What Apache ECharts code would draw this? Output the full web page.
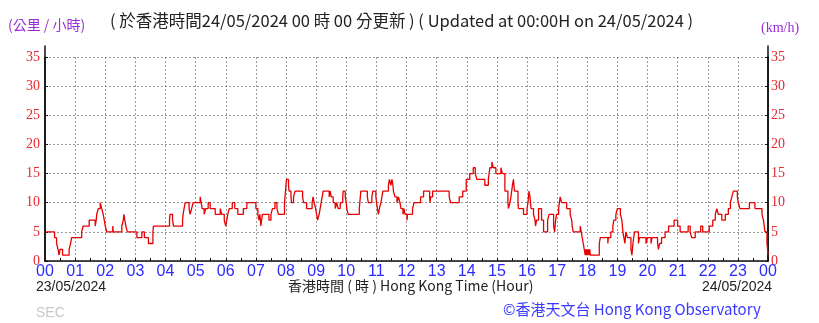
<!DOCTYPE html>
<html>
<head>
<meta charset="utf-8">
<script src="https://cdn.jsdelivr.net/npm/echarts@6/dist/echarts.min.js"></script>
<style>
    html, body { margin: 0; padding: 0; background: #fff; }
    #main { width: 819px; height: 323px; }
</style>
</head>
<body>
<div id="main"></div>
<script>
    // minutes after 00:00 (23/05) where the reading changes, and the wind speed from there (km/h)
    var minutes = [
        0, 19, 23, 26, 28, 30, 35, 48, 51, 53, 73, 76, 88, 100, 102, 103, 106, 110, 113, 116, 118, 120, 123, 135, 136,
        153, 156, 157, 159, 161, 164, 183, 193, 198, 206, 215, 216, 248, 249, 254, 256, 274, 275, 277, 279,
        287, 289, 292, 295, 309, 311, 313, 317, 320, 325, 329, 339, 349, 352, 357, 360, 362, 364, 367, 373, 378, 384,
        395, 402, 420, 424, 426, 428, 430, 433, 446, 450, 453, 458, 462, 465, 477, 479, 481, 485, 486, 490, 491, 495,
        498, 513, 515, 521, 532, 534, 536, 539, 541, 543, 546, 548, 550, 552, 554, 566, 568,
        570, 574, 578, 581, 584, 588, 593, 594, 598, 600, 601, 604, 626, 627, 629, 642, 644, 651, 653, 659, 662, 664,
        666, 669, 671, 673, 684, 686, 689, 691, 693, 694, 697, 701, 704, 707, 709, 713, 715, 717, 721, 722, 732, 735,
        748, 754, 766, 767, 768, 772, 805, 808, 825, 832, 839, 846, 853,
        857, 860, 876, 883, 886, 890, 893, 898, 908, 911, 916, 922, 923, 926, 928, 931, 933, 935, 942, 943, 953, 960,
        962, 964, 966, 968, 973, 976, 977, 979, 983, 989, 993, 1001, 1004, 1013, 1015, 1017, 1019, 1023, 1026, 1029,
        1039, 1046, 1049, 1050, 1052, 1066, 1068, 1070, 1072, 1074, 1076, 1077, 1078, 1079, 1080, 1081, 1082, 1083,
        1084, 1085, 1086, 1104, 1106, 1121, 1122, 1127, 1131, 1133, 1137, 1140, 1146,
        1149, 1151, 1153, 1155, 1157, 1160, 1167, 1169, 1171, 1174, 1182, 1184, 1197, 1200, 1207, 1209, 1220, 1222,
        1224, 1228, 1235, 1242, 1253, 1260, 1265, 1281, 1285, 1288, 1295, 1306, 1310, 1323, 1330, 1335, 1338, 1341,
        1348, 1355, 1361, 1365, 1368, 1371, 1379, 1381, 1384, 1403, 1414, 1428, 1431, 1434, 1438, 1440
    ];
    var speeds = [
        5, 4, 3, 2, 1, 2, 1, 2, 3, 4, 5, 6, 7, 6, 7, 8, 9, 10, 9, 8, 7, 6, 5, 6, 5,
        6, 7, 8, 7, 6, 5, 4, 5, 4, 3, 5, 6, 7, 8, 7, 6, 7, 8, 9, 10,
        9, 8, 9, 10, 11, 10, 9, 8, 9, 10, 9, 8, 9, 8, 7, 6, 7, 8, 9, 10, 9, 8,
        9, 10, 9, 8, 7, 8, 6, 8, 7, 8, 9, 10, 9, 8, 10, 12, 14, 13, 12, 11, 10, 11,
        12, 11, 10, 9, 10, 11, 10, 9, 8, 7, 8, 9, 10, 11, 12, 11, 12,
        11, 10, 9, 10, 9, 10, 11, 12, 11, 10, 9, 8, 9, 10, 12, 11, 10, 11, 12, 11, 9, 8,
        9, 10, 11, 12, 13, 14, 13, 14, 13, 12, 11, 10, 11, 10, 9, 8, 9, 8, 7, 8, 9, 10,
        11, 12, 11, 10, 11, 12, 11, 10, 11, 12, 14, 15, 16,
        15, 14, 13, 14, 16, 17, 16, 15, 16, 15, 12, 10, 9, 10, 11, 13, 14, 12, 10, 9, 8, 9,
        10, 12, 11, 9, 8, 7, 6, 7, 9, 7, 5, 7, 8, 6, 5, 7, 8, 9, 11, 10,
        9, 8, 7, 6, 5, 6, 5, 4, 3, 2, 1, 2, 1, 2, 1, 2, 1, 2,
        1, 2, 1, 3, 4, 3, 4, 5, 6, 7, 8, 9, 8,
        7, 5, 4, 3, 5, 4, 2, 1, 3, 5, 3, 4, 3, 4, 3, 4, 3, 2,
        3, 4, 5, 6, 7, 6, 5, 6, 5, 4, 5, 6, 5, 6, 7, 8, 9, 8,
        7, 8, 9, 10, 11, 12, 11, 10, 9, 10, 9, 8, 7, 5, 3, 1
    ];
    var hourLabels = ['00', '01', '02', '03', '04', '05', '06', '07', '08', '09', '10', '11', '12',
        '13', '14', '15', '16', '17', '18', '19', '20', '21', '22', '23', '00'];
    var yMax = 35;

    var chart = echarts.init(document.getElementById('main'), null, { renderer: 'canvas' });

    var gridBox = { left: 45, right: 51, top: 57, bottom: 62 };
    var dotted = { show: true, lineStyle: { color: '#9a9a9a', type: [2, 2], width: 1 } };
    var redLabel = { color: '#e8272d', fontSize: 14, fontFamily: 'Liberation Serif' };
    var blackAxis = { show: true, lineStyle: { color: '#111', width: 1.5 } };

    var option = {
        backgroundColor: '#fff',
        animation: false,
        grid: [
            gridBox,
            // taller twin grid only to let the vertical axis lines reach above 35
            { left: 45, right: 51, top: 46, bottom: 62 }
        ],
        xAxis: [{
            type: 'value',
            gridIndex: 0,
            min: 0,
            max: 1440,
            interval: 60,
            axisLine: blackAxis,
            axisTick: { show: true, inside: true, length: 3, lineStyle: { color: '#111' } },
            minorTick: { show: true, splitNumber: 2, length: 3, lineStyle: { color: '#111' } },
            axisLabel: {
                margin: 3,
                color: '#2b2bff',
                fontSize: 16,
                fontFamily: 'Liberation Sans',
                formatter: function (v) { return hourLabels[Math.round(v / 60)]; }
            },
            splitLine: dotted
        }, {
            type: 'value', gridIndex: 1, min: 0, max: 1, show: false
        }],
        yAxis: [{
            type: 'value',
            gridIndex: 0,
            position: 'left',
            min: 0,
            max: yMax,
            interval: 5,
            axisLine: blackAxis,
            axisTick: { show: true, inside: true, length: 3, lineStyle: { color: '#111' } },
            axisLabel: Object.assign({ margin: 5 }, redLabel),
            splitLine: dotted
        }, {
            type: 'value',
            gridIndex: 0,
            position: 'right',
            min: 0,
            max: yMax,
            interval: 5,
            axisLine: blackAxis,
            axisTick: { show: true, inside: true, length: 3, lineStyle: { color: '#111' } },
            axisLabel: Object.assign({ margin: 3 }, redLabel),
            splitLine: { show: false }
        }, {
            type: 'value', gridIndex: 1, position: 'left', min: 0, max: 1,
            axisLine: blackAxis, axisTick: { show: false }, axisLabel: { show: false }, splitLine: { show: false }
        }, {
            type: 'value', gridIndex: 1, position: 'right', min: 0, max: 1,
            axisLine: blackAxis, axisTick: { show: false }, axisLabel: { show: false }, splitLine: { show: false }
        }],
        series: [{
            type: 'line',
            xAxisIndex: 0,
            yAxisIndex: 0,
            step: 'end',
            symbol: 'none',
            lineStyle: { color: '#e60000', width: 1.3 },
            data: minutes.map(function (m, i) { return [m, speeds[i]]; })
        }],
        graphic: [
            { type: 'text', left: 8, top: 18, style: { text: '(公里 / 小時)', fill: '#9a2ed8', font: '14px "Noto Sans CJK TC"' } },
            { type: 'text', left: 110, top: 12, style: { text: '( 於香港時間24/05/2024 00 時 00 分更新 ) ( Updated at 00:00H on 24/05/2024 )', fill: '#222', font: '16.5px "Noto Sans CJK TC"' } },
            { type: 'text', left: 761, top: 21, style: { text: '(km/h)', fill: '#9a2ed8', font: '14px "Liberation Serif"' } },
            { type: 'text', left: 36, top: 280, style: { text: '23/05/2024', fill: '#222', font: '14px "Liberation Sans"' } },
            { type: 'text', left: 702, top: 280, style: { text: '24/05/2024', fill: '#222', font: '14px "Liberation Sans"' } },
            { type: 'text', left: 288, top: 279, style: { text: '香港時間 ( 時 ) Hong Kong Time (Hour)', fill: '#222', font: '14px "Noto Sans CJK TC"' } },
            { type: 'text', left: 503, top: 302, style: { text: '©香港天文台 Hong Kong Observatory', fill: '#3a3aff', font: '15px "Noto Sans CJK TC"' } },
            { type: 'text', left: 36, top: 306, style: { text: 'SEC', fill: '#c8c8c8', font: '14px "Liberation Sans"' } }
        ]
    };

    chart.setOption(option);
</script>
</body>
</html>
